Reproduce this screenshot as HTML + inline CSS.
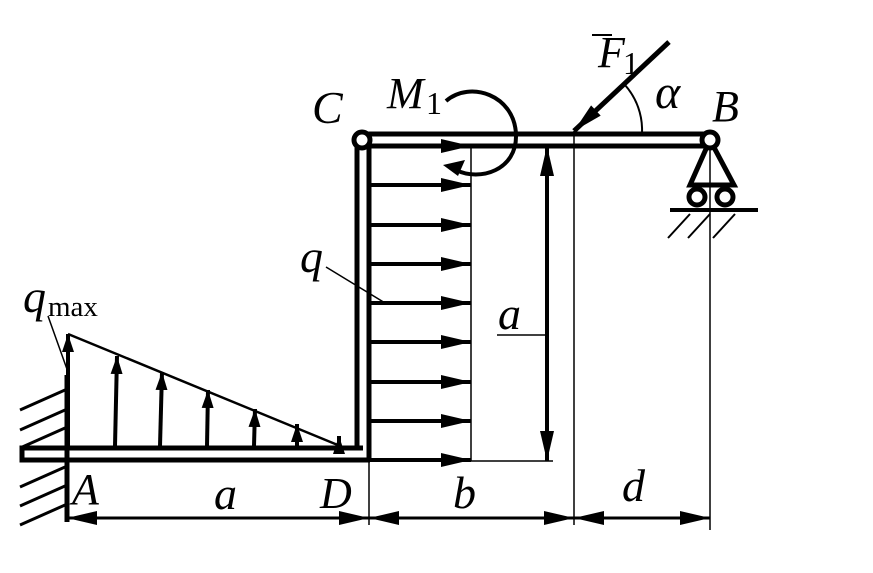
<!DOCTYPE html>
<html><head><meta charset="utf-8"><style>
html,body{margin:0;padding:0;background:#fff;}
svg{display:block;}
text{font-family:"Liberation Serif",serif;font-style:italic;fill:#000;}
text.n{font-style:normal;}
</style></head><body>
<svg width="873" height="573" viewBox="0 0 873 573" xmlns="http://www.w3.org/2000/svg">
<defs>
<marker id="ah" markerUnits="userSpaceOnUse" markerWidth="32" markerHeight="14" refX="30" refY="7" orient="auto">
<path d="M0,0 L30,7 L0,14 Z" fill="#000"/>
</marker>
<marker id="ahs" markerUnits="userSpaceOnUse" markerWidth="20" markerHeight="12" refX="18" refY="6" orient="auto">
<path d="M0,0 L18,6 L0,12 Z" fill="#000"/>
</marker>
<marker id="as" markerUnits="userSpaceOnUse" markerWidth="32" markerHeight="14" refX="0" refY="7" orient="auto">
<path d="M30,0 L0,7 L30,14 Z" fill="#000"/>
</marker>
</defs>
<g stroke="#000" fill="none">
<g stroke-width="3">
<line x1="20" y1="410" x2="65" y2="390"/>
<line x1="20" y1="430" x2="65" y2="410"/>
<line x1="20" y1="448" x2="65" y2="428"/>
<line x1="20" y1="487" x2="65" y2="467"/>
<line x1="20" y1="506" x2="65" y2="486"/>
<line x1="20" y1="525" x2="65" y2="505"/>
</g>
<line x1="67" y1="375" x2="67" y2="522" stroke-width="5"/>
<path d="M363,448 L22,448 L22,460 L370,460" stroke-width="5"/>
<line x1="357" y1="146" x2="357" y2="450" stroke-width="5"/>
<line x1="369" y1="146" x2="369" y2="461" stroke-width="5"/>
<line x1="362" y1="134" x2="710" y2="134" stroke-width="5"/>
<line x1="369" y1="146" x2="710" y2="146" stroke-width="5"/>
<circle cx="362" cy="140" r="8" fill="#fff" stroke-width="5"/>
<path d="M710,140 L690,185 L734,185 Z" stroke-width="5" fill="#fff"/>
<circle cx="697" cy="197" r="8" stroke-width="5" fill="#fff"/>
<circle cx="725" cy="197" r="8" stroke-width="5" fill="#fff"/>
<line x1="670" y1="210" x2="758" y2="210" stroke-width="4"/>
<g stroke-width="2">
<line x1="668" y1="238" x2="690" y2="214"/>
<line x1="688" y1="238" x2="710" y2="214"/>
<line x1="713" y1="238" x2="735" y2="214"/>
</g>
<circle cx="710" cy="140" r="8" fill="#fff" stroke-width="5"/>
<g stroke-width="1.5">
<line x1="471" y1="146" x2="471" y2="461"/>
<line x1="471" y1="461" x2="553" y2="461"/>
<line x1="574" y1="131" x2="574" y2="525"/>
<line x1="710" y1="148" x2="710" y2="530"/>
<line x1="369" y1="462" x2="369" y2="525"/>
<line x1="497" y1="335" x2="547" y2="335"/>
<line x1="326" y1="267" x2="385" y2="303"/>
<line x1="48" y1="316" x2="68" y2="372"/>
<line x1="68" y1="334" x2="345" y2="448" stroke-width="2.5"/>
<path d="M625,85 A68,68 0 0 1 642,133" stroke-width="2"/>
</g>
<g stroke-width="4" marker-end="url(#ah)">
<line x1="370" y1="146" x2="471" y2="146"/>
<line x1="370" y1="185" x2="471" y2="185"/>
<line x1="370" y1="225" x2="471" y2="225"/>
<line x1="370" y1="264" x2="471" y2="264"/>
<line x1="370" y1="303" x2="471" y2="303"/>
<line x1="370" y1="342" x2="471" y2="342"/>
<line x1="370" y1="382" x2="471" y2="382"/>
<line x1="370" y1="421" x2="471" y2="421"/>
<line x1="370" y1="460" x2="471" y2="460"/>
</g>
<g stroke-width="4" marker-end="url(#ahs)">
<line x1="68" y1="446" x2="68" y2="334"/>
<line x1="115" y1="446" x2="117" y2="356"/>
<line x1="160" y1="446" x2="162" y2="372"/>
<line x1="207" y1="446" x2="208" y2="390"/>
<line x1="254" y1="446" x2="255" y2="409"/>
<line x1="297" y1="446" x2="297" y2="424"/>
<line x1="339" y1="446" x2="339" y2="436"/>
</g>
<line x1="547" y1="176" x2="547" y2="431" stroke-width="4"/>
<line x1="547" y1="180" x2="547" y2="146" stroke-width="4" marker-end="url(#ah)"/>
<line x1="547" y1="430" x2="547" y2="461" stroke-width="4" marker-end="url(#ah)"/>
<g stroke-width="3">
<line x1="67" y1="518" x2="369" y2="518" marker-start="url(#as)" marker-end="url(#ah)"/>
<line x1="369" y1="518" x2="574" y2="518" marker-start="url(#as)" marker-end="url(#ah)"/>
<line x1="574" y1="518" x2="710" y2="518" marker-start="url(#as)" marker-end="url(#ah)"/>
</g>
<line x1="669" y1="42" x2="574" y2="131" stroke-width="5" marker-end="url(#ah)"/>
<path d="M446,101 C470,80 515,95 516,135 C517,170 480,182 456,170" stroke-width="4"/>
<path d="M443,165 L465,160 L458,176 Z" fill="#000" stroke="none"/>
</g>
<text x="312" y="123" font-size="46">C</text>
<text x="387" y="108" font-size="44">M</text>
<text class="n" x="426" y="114" font-size="32">1</text>
<text x="598" y="67" font-size="44">F</text>
<line x1="592" y1="35" x2="612" y2="35" stroke="#000" stroke-width="2"/>
<text class="n" x="623" y="74" font-size="32">1</text>
<text x="655" y="108" font-size="48">α</text>
<text x="712" y="121" font-size="44">B</text>
<text x="300" y="272" font-size="46">q</text>
<text x="23" y="312" font-size="46">q</text>
<text class="n" x="48" y="316" font-size="29">max</text>
<text x="498" y="329" font-size="46">a</text>
<text x="72" y="504" font-size="44">A</text>
<text x="214" y="509" font-size="46">a</text>
<text x="320" y="508" font-size="44">D</text>
<text x="453" y="508" font-size="46">b</text>
<text x="622" y="501" font-size="46">d</text>
</svg>
</body></html>
